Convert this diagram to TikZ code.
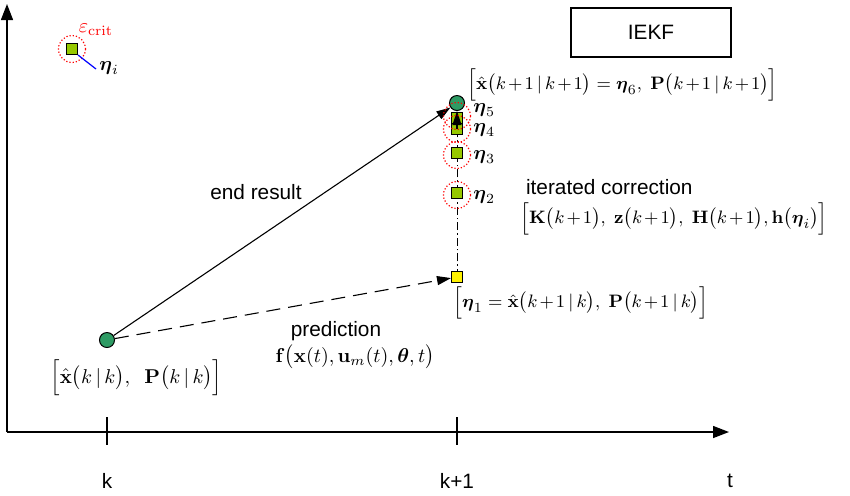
\documentclass[tikz,border=0pt]{standalone}
\usepackage{amsmath}
\usepackage[no-math]{fontspec}
\setmainfont{Liberation Sans}
\usetikzlibrary{arrows.meta}

\definecolor{stategreen}{RGB}{46,155,100}
\definecolor{iterlime}{RGB}{150,200,0}
\newcommand{\kpo}{k\mkern2mu{+}\mkern2mu1}

\begin{document}
\begin{tikzpicture}[x=.5pt,y=-.5pt,font=\fontsize{10.4}{12.5}\selectfont,
    axis/.style={line width=.7pt,-{Triangle[length=8pt,width=6pt]}},
    arr/.style={line width=.55pt,-{Triangle[length=7pt,width=4.5pt]}},
    dashdot/.style={line width=.5pt,dash pattern=on 4pt off 1.5pt on .8pt off 1.5pt},
    crit/.style={circle,draw=red,densely dotted,line width=.6pt,minimum size=13.5pt,inner sep=0pt},
    mth/.style={inner sep=1pt,font=\fontsize{9.8}{12}\selectfont},
    smth/.style={inner sep=1pt,font=\fontsize{9.3}{11}\selectfont}]

      \useasboundingbox (0,0) rectangle (850,495);

      \coordinate (o) at (7,432);
      \coordinate (ytop) at (7,4);
      \coordinate (tend) at (729,432);
      \draw[axis] (o) -- (ytop);
      \draw[axis] (o) -- (tend);
      \draw[line width=.6pt] (107,417) -- (107,445);
      \draw[line width=.6pt] (457,417) -- (457,445);
      \node (tk)  at (107,481) {k};
      \node (tk1) at (457,481) {k+1};
      \node (tt)  at (730,481) {t};

      \node[draw,line width=.6pt,minimum width=80pt,minimum height=24.5pt] (iekf) at (651,32.5) {IEKF};

      \begin{scope}[every path/.style={dashdot}]
        \draw (457,277) -- (457,193);
        \draw (457,193) -- (457,153);
        \draw (457,153) -- (457,129);
      \end{scope}

      \begin{scope}[every node/.style={draw,line width=.5pt,fill=iterlime,minimum size=5.5pt,inner sep=0pt}]
        \node (e)  at (72,49)   {};
        \node (1)  at (457,277) [fill=yellow] {};
        \node (2)  at (457,193) {};
        \node (3)  at (457,153) {};
        \node (4)  at (457,129) {};
        \node (5)  at (457,118) {};
      \end{scope}

      \begin{scope}[every node/.style={circle,draw,line width=.5pt,fill=stategreen,minimum size=7.5pt,inner sep=0pt}]
        \node (0)  at (107,340) {};
        \node (6)  at (457,103) {};
      \end{scope}

      \path[arr] (0) edge (6);
      \path[arr,dash pattern=on 7pt off 4pt] (0) edge (1);
      \path[arr] (4.center) edge (6);

      \begin{scope}[every node/.style={crit}]
        \node (ce) at (72,49)   {};
        \node (c2) at (457,195) {};
        \node (c3) at (457,155) {};
        \node (c4) at (457,129) {};
        \node (c5) at (457,116) {};
      \end{scope}

      \coordinate (ei) at (96,69);
      \draw[blue,line width=.6pt] (e.south east) -- (ei);
      \node[red,mth] (eps) at (96,30) {$\varepsilon_{\mathrm{crit}}$};
      \node[mth,anchor=west] (etai) at (97,68) {$\boldsymbol\eta_i$};

      \begin{scope}[every node/.style={mth,anchor=west}]
        \node (l5) at (471,110) {$\boldsymbol\eta_5$};
        \node (l4) at (471,130) {$\boldsymbol\eta_4$};
        \node (l3) at (471,157) {$\boldsymbol\eta_3$};
        \node (l2) at (471,197) {$\boldsymbol\eta_2$};
        \node (x0) at (48,378)  {$\Bigl[\hat{\mathbf x}\bigl(k\,|\,k\bigr),\ \ \mathbf P\bigl(k\,|\,k\bigr)\Bigr]$};
      \end{scope}

      \begin{scope}[every node/.style={smth,anchor=west}]
        \node (x6) at (465,85)  {$\Bigl[\hat{\mathbf x}\bigl(\kpo\,|\,\kpo\bigr)=\boldsymbol\eta_6,\ \mathbf P\bigl(\kpo\,|\,\kpo\bigr)\Bigr]$};
        \node (kz) at (518,219) {$\Bigl[\mathbf K\bigl(\kpo\bigr),\ \mathbf z\bigl(\kpo\bigr),\ \mathbf H\bigl(\kpo\bigr),\mathbf h\bigl(\boldsymbol\eta_i\bigr)\Bigr]$};
        \node (x1) at (451,303) {$\Bigl[\boldsymbol\eta_1=\hat{\mathbf x}\bigl(\kpo\,|\,k\bigr),\ \mathbf P\bigl(\kpo\,|\,k\bigr)\Bigr]$};
      \end{scope}

      \node[anchor=west] (ic) at (519,187) {iterated correction};
      \node (er) at (256,192) {end result};
      \node (pr) at (336,331) {prediction};
      \node[mth] (fx) at (355,357) {$\mathbf f\bigl(\mathbf x(t),\mathbf u_m(t),\boldsymbol\theta,t\bigr)$};

    \end{tikzpicture}
\end{document}
